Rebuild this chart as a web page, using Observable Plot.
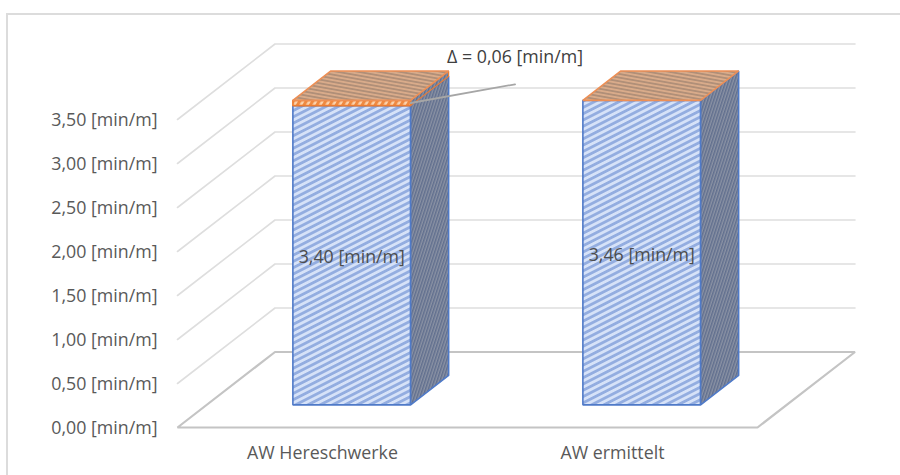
<!DOCTYPE html>
<html><head><meta charset="utf-8">
<script src="https://cdn.jsdelivr.net/npm/d3@7"></script>
<script src="https://cdn.jsdelivr.net/npm/@observablehq/plot@0.6"></script>
<style>
html,body{margin:0;padding:0;background:#fff;overflow:hidden}
#wrap{position:relative;width:900px;height:475px;overflow:hidden}
#frame{position:absolute;left:6px;top:13px;width:930px;height:490px;border:2px solid #dcdcdc;box-sizing:border-box;background:#fff}
#chart{position:absolute;left:0;top:0}
svg{display:block;background:transparent!important}
</style></head><body>
<div id="wrap"><div id="frame"></div><div id="chart"></div></div>
<script>
const categories = ["AW Hereschwerke", "AW ermittelt"];
const categoryPos = [0.25, 0.75];
const blueValues = [3.40, 3.46];
const orangeValues = [0.06, 0.00];
const valueLabels = ["3,40 [min/m]", "3,46 [min/m]"];
const yTicks = [0, 0.5, 1, 1.5, 2, 2.5, 3, 3.5];
const deltaLabel = "Δ = 0,06 [min/m]";
const deltaAnchor = {u: 0.582, v: 3.90};
const deltaText = {u: 0.582, v: 4.205};

const kx = 97.5 / 580, ky = 75.5 / 88;   // oblique depth projection in data units
const barW = 0.203, d0 = 0.30, d1 = 0.69;
const P = (u, v, d = 0) => ({x: u + d * kx, y: v + d * ky});

const fmt = v => v.toFixed(2).replace(".", ",") + " [min/m]";
const font = "'Open Sans', sans-serif";
const fs = 17.8;

const marks = [];
const poly = (pts, fill, stroke, sw) => marks.push(Plot.line(pts, {x: "x", y: "y", curve: "linear-closed", fill, stroke, strokeWidth: sw, strokeLinejoin: "miter"}));

// walls
const grid = yTicks.slice(1);
marks.push(Plot.line(grid.flatMap(v => [{...P(0, v, 0), v}, {...P(0, v, 1), v}, {...P(1, v, 1), v}]), {x: "x", y: "y", z: "v", stroke: "#dedede", strokeWidth: 1.6}));
// floor
poly([P(0, 0, 0), P(1, 0, 0), P(1, 0, 1), P(0, 0, 1)], "none", "#c4c4c4", 2.2);

// bars
categoryPos.forEach((c, i) => {
  const l = c - barW / 2, r = c + barW / 2, b = blueValues[i], t = b + orangeValues[i];
  poly([P(l, 0, d0), P(r, 0, d0), P(r, b, d0), P(l, b, d0)], "url(#pFront)", "#4f7ac8", 1.6);
  poly([P(r, 0, d0), P(r, 0, d1), P(r, b, d1), P(r, b, d0)], "url(#pSide)", "#4f7ac8", 1.6);
  if (orangeValues[i] > 0) {
    poly([P(l, b, d0), P(r, b, d0), P(r, t, d0), P(l, t, d0)], "url(#pOrange)", "#ed7d31", 1.6);
    poly([P(r, b, d0), P(r, b, d1), P(r, t, d1), P(r, t, d0)], "url(#pSide)", "#ed7d31", 1.2);
  }
  poly([P(l, t, d0), P(r, t, d0), P(r, t, d1), P(l, t, d1)], "url(#pTop)", "#ed8f55", 1.6);
});

// value labels
marks.push(Plot.text(categoryPos.map((c, i) => ({...P(c, blueValues[i] / 2, d0), t: valueLabels[i]})), {
  x: "x", y: "y", text: "t", fill: "#4d4d4d", fontSize: fs, dy: 2.5, textAnchor: "middle"}));

// delta callout
const r0 = categoryPos[0] + barW / 2;
marks.push(Plot.line([P(r0, blueValues[0] + orangeValues[0] / 2, d0), P(deltaAnchor.u, deltaAnchor.v)], {x: "x", y: "y", stroke: "#a6a6a6", strokeWidth: 1.8}));
marks.push(Plot.text([{...P(deltaText.u, deltaText.v), t: deltaLabel}], {x: "x", y: "y", text: "t", fill: "#404040", fontSize: fs, textAnchor: "middle"}));

// axes
marks.push(Plot.axisY(yTicks, {anchor: "left", tickSize: 0, tickPadding: 20, dy: 1, tickFormat: fmt, fill: "#595959", fontSize: fs, label: null}));
marks.push(Plot.axisX(categoryPos, {anchor: "bottom", tickSize: 0, tickPadding: 19, tickFormat: u => categories[categoryPos.indexOf(u)], fill: "#595959", fontSize: fs, label: null}));

const plot = Plot.plot({
  width: 900, height: 475,
  marginLeft: 177, marginRight: 143, marginTop: 119, marginBottom: 48,
  style: {fontFamily: font, background: "transparent", overflow: "visible"},
  x: {domain: [0, 1], range: [177, 757]},
  y: {domain: [0, 3.5], range: [427, 119]},
  marks
});

const ns = "http://www.w3.org/2000/svg";
const defs = document.createElementNS(ns, "defs");
const pat = (id, size, angle, base, stripe, frac) => `<pattern id="${id}" patternUnits="userSpaceOnUse" width="${size}" height="${size}" patternTransform="rotate(${angle})"><rect width="${size}" height="${size}" fill="${base}"/><rect width="${size}" height="${size * frac}" fill="${stripe}"/></pattern>`;
defs.innerHTML =
  pat("pFront", 5.6, -27, "#d6e2f8", "#93ade0", 0.5) +
  pat("pSide", 2.8, -72, "#8a92a4", "#616f8e", 0.5) +
  pat("pTop", 3.6, 10, "#d9ab8a", "#b08f78", 0.5) +
  pat("pOrange", 5.6, -60, "#fbd3ae", "#ef8a42", 0.55);
plot.insertBefore(defs, plot.firstChild);
document.getElementById("chart").appendChild(plot);
</script>
</body></html>
